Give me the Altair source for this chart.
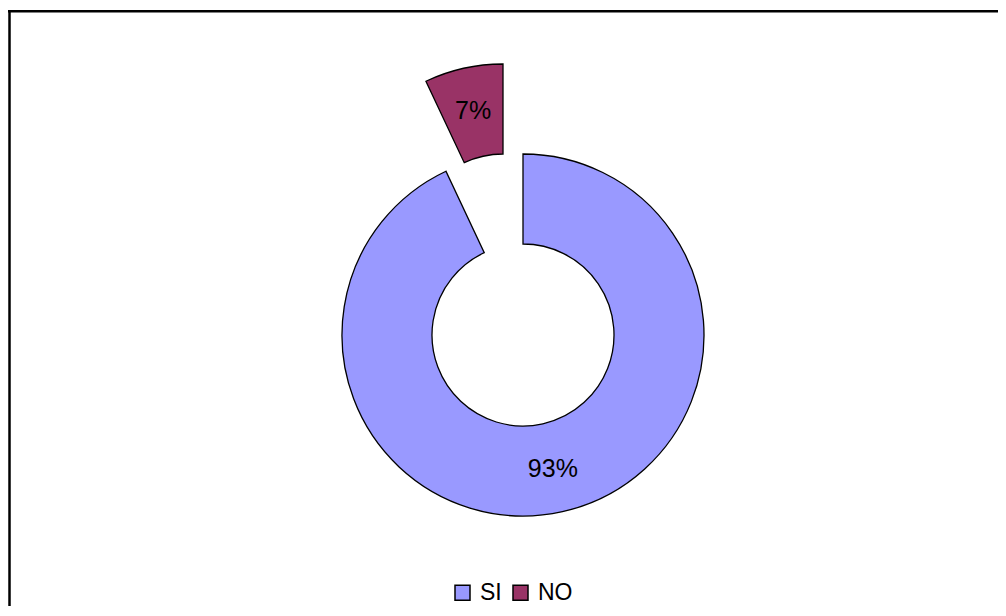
import altair as alt
import pandas as pd
import math

categories = ["SI", "NO"]
values = [93, 7]
labels = ["93%", "7%"]
colors = ["#9999FF", "#993366"]

df = pd.DataFrame({"cat": categories, "val": values, "label": labels, "order": [0, 1]})

base = alt.Chart(df).transform_window(
    end="sum(val)", sort=[alt.SortField("order")], frame=[None, 0]
).transform_calculate(
    start="datum.end - datum.val", mid="datum.end - datum.val/2"
)

theta_scale = alt.Scale(domain=[0, 100], range=[0, 2 * math.pi])
color = alt.Color(
    "cat:N",
    scale=alt.Scale(domain=categories, range=colors),
    sort=categories,
    legend=alt.Legend(
        title=None, orient="none", legendX=443, legendY=573, direction="horizontal",
        symbolType="square", symbolSize=225, symbolStrokeColor="black",
        symbolStrokeWidth=1.5, labelFontSize=23, labelFont="Liberation Sans",
        labelColor="black", columnPadding=7, labelOffset=6, padding=0,
        symbolOpacity=1,
    ),
)

def arc(cat, cx, cy):
    return base.transform_filter(alt.datum.cat == cat).mark_arc(
        outerRadius=181, innerRadius=91, stroke="black", strokeWidth=1.3, opacity=1
    ).encode(
        theta=alt.Theta("start:Q", scale=theta_scale),
        theta2="end:Q",
        color=color,
        x=alt.value(cx), y=alt.value(cy),
    )

def txt(cat, cx, cy):
    return base.transform_filter(alt.datum.cat == cat).mark_text(
        radius=137, fontSize=25, font="Liberation Sans", color="black"
    ).encode(
        theta=alt.Theta("mid:Q", scale=theta_scale),
        text="label:N",
        x=alt.value(cx), y=alt.value(cy),
    )

frame_data = alt.Data(values=[{"a": 1}])
left_rule = alt.Chart(frame_data).mark_rule(color="black", strokeWidth=2.5).encode(
    x=alt.value(1.5), y=alt.value(3.3), y2=alt.value(700)
)
top_rule = alt.Chart(frame_data).mark_rule(color="black", strokeWidth=2.5).encode(
    x=alt.value(0), x2=alt.value(1100), y=alt.value(3.3)
)

chart = alt.layer(
    left_rule, top_rule,
    arc("SI", 515, 327), arc("NO", 495, 237),
    txt("SI", 515, 327), txt("NO", 495, 237),
).properties(
    width=990, height=598, padding=0, autosize=alt.AutoSizeParams(type="none")
).configure_view(stroke=None)

chart.save("out.html", embed_options={"renderer": "svg", "actions": False})
